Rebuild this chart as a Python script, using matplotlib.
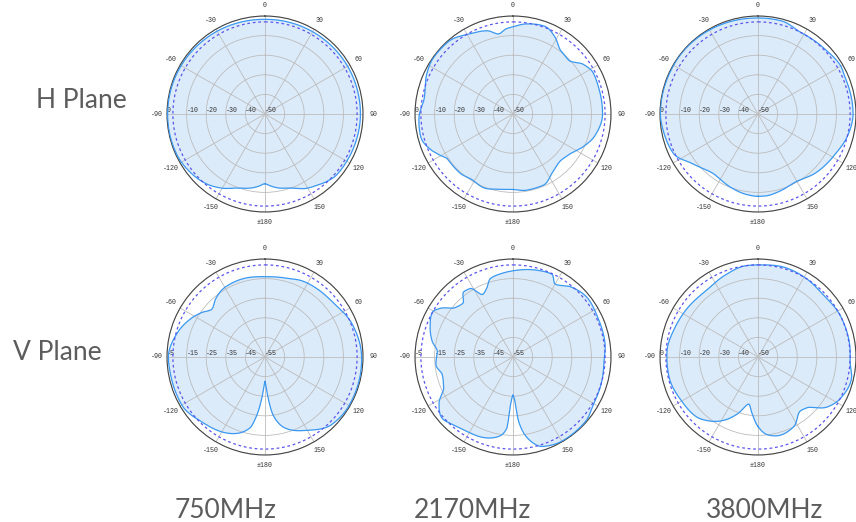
import numpy as np
import matplotlib
matplotlib.use("Agg")
import matplotlib.pyplot as plt

# ---------------- data (angle in degrees, clockwise from top; gain in dB) ----------------
freqs = ["750MHz", "2170MHz", "3800MHz"]
planes = ["H Plane", "V Plane"]
theta_labels = ["0", "30", "60", "90", "120", "150", "\u00b1180", "-150", "-120", "-90", "-60", "-30"]

h750_ang = [-180, -175, -170, -160, -150, -140, -131, -115, -100, -90, -75, -60, -45, -30, -15,
            0, 15, 30, 45, 60, 75, 90, 105, 120, 130, 137, 144, 151, 160, 170, 175, 180]
h750_db = [-14.4, -13.0, -11.7, -9.8, -6.3, -3.5, -2.0, -0.5, -0.3, -0.3, -0.4, -0.6, -0.9, -1.2, -1.5,
           -1.7, -1.6, -1.5, -1.4, -1.3, -1.3, -1.3, -1.5, -1.8, -2.0, -3.2, -5.0, -6.6, -9.8, -11.7, -13.0, -14.4]

h2170_ang = [-180, -170, -158, -148, -138, -125, -119, -114, -104, -92, -80, -64, -55, -42, -28, -17, -10, -5,
             0, 8, 20, 28, 37, 46, 55, 63, 75, 90, 105, 115, 125, 135, 146, 157, 170, 180]
h2170_db = [-11.5, -11.0, -9.5, -10.5, -9.5, -9.5, -7.0, -4.5, -1.5, -2.0, -4.0, -1.3, -0.3, -0.5, -3.6, -5.6, -8.5, -6.5,
            -5.5, -3.6, -2.4, -5.0, -9.5, -10.5, -6.0, -4.0, -4.3, -4.3, -6.8, -10.5, -14.5, -16.0, -14.0, -10.5, -10.5, -11.5]

h3800_ang = [-180, -172, -160, -144, -128, -115, -101, -90, -65, -53, -30, -15,
             0, 14, 28, 45, 60, 67, 90, 104, 117, 136, 151, 165, 175, 180]
h3800_db = [-8.0, -8.5, -10.0, -12.0, -8.4, -2.4, -1.0, -0.2, -0.3, -0.2, -0.5, -0.8,
            -1.0, -1.0, -3.0, -2.5, -1.2, -1.8, -1.5, -3.0, -5.5, -8.0, -10.4, -9.0, -8.0, -8.0]

v750_ang = [-180, -178, -176, -172, -168, -153, -136, -120, -102, -90, -75, -61, -55, -48, -40, -30, -16,
            0, 13, 27, 50, 69, 90, 108, 121, 135, 150, 165, 172, 176, 178, 180]
v750_db = [-42.5, -40.0, -35.0, -25.0, -18.0, -11.5, -8.8, -6.0, -6.0, -5.7, -8.5, -13.0, -15.5, -18.5, -16.0, -14.0, -13.5,
           -14.0, -13.5, -11.7, -10.6, -7.5, -5.7, -5.5, -5.5, -6.5, -11.8, -17.8, -25.0, -35.0, -40.0, -42.5]

v2170_ang = [-180, -177, -175, -169, -158, -148, -139, -131, -122, -114, -104, -96, -86, -79, -70, -61, -56, -50,
             -43, -37, -32, -26, -21, -16, -8, 0, 16, 25, 30, 40, 52, 66, 81, 93, 106, 119, 132, 148, 162, 169,
             175, 177.5, 180]
v2170_db = [-35.5, -30.5, -18.5, -13.5, -11.0, -10.3, -9.0, -7.2, -10.5, -16.3, -17.8, -15.5, -16.3, -13.0, -10.0, -8.0, -10.5, -16.0,
            -17.5, -13.3, -13.8, -19.5, -17.5, -13.3, -12.0, -11.0, -9.0, -8.3, -12.0, -8.5, -6.5, -7.3, -7.5, -8.5, -8.0, -7.5, -5.5, -5.3, -7.0, -12.0,
            -22.0, -32.5, -35.5]

v3800_ang = [-180, -174, -169, -160, -152, -144, -133, -120, -103, -86, -71, -58, -39, -22, -7,
             0, 16, 32, 46, 63, 82, 92, 104, 117, 126, 136, 142, 153, 164, 173, 180]
v3800_db = [-14.5, -21.0, -25.5, -19.0, -13.5, -9.5, -6.0, -5.0, -3.5, -3.5, -5.0, -6.0, -7.0, -5.0, -3.0,
            -3.0, -2.3, -3.0, -4.0, -3.0, -2.8, -3.0, -1.0, -3.0, -6.5, -14.0, -15.0, -10.0, -8.5, -10.0, -14.5]

# radial scales (tick values from centre to rim)
h_rticks = [-50, -40, -30, -20, -10, 0]
v_rticks_a = [-55, -45, -35, -25, -15, -5]
v_rticks_b = [-50, -40, -30, -20, -10, 0]

patterns = [
    [(h750_ang, h750_db, h_rticks), (h2170_ang, h2170_db, h_rticks), (h3800_ang, h3800_db, h_rticks)],
    [(v750_ang, v750_db, v_rticks_a), (v2170_ang, v2170_db, v_rticks_a), (v3800_ang, v3800_db, v_rticks_b)],
]


def smooth_curve(ang, val, n=1441):
    """Periodic shape-preserving cubic (PCHIP) rendering of the read points."""
    a = np.asarray(ang[:-1], dtype=float)
    v = np.asarray(val[:-1], dtype=float)
    ax_ = np.concatenate([a - 360, a, a + 360])
    vx = np.concatenate([v, v, v])
    h = np.diff(ax_)
    dl = np.diff(vx) / h
    d = np.zeros_like(vx)
    for k in range(1, len(vx) - 1):
        if dl[k - 1] * dl[k] <= 0:
            d[k] = 0.0
        else:
            w1 = 2 * h[k] + h[k - 1]
            w2 = h[k] + 2 * h[k - 1]
            d[k] = (w1 + w2) / (w1 / dl[k - 1] + w2 / dl[k])
    t = np.linspace(-180, 180, n)
    idx = np.searchsorted(ax_, t, side="right") - 1
    x0, x1 = ax_[idx], ax_[idx + 1]
    hh = x1 - x0
    s = (t - x0) / hh
    h00 = 2 * s**3 - 3 * s**2 + 1
    h10 = s**3 - 2 * s**2 + s
    h01 = -2 * s**3 + 3 * s**2
    h11 = s**3 - s**2
    r = h00 * vx[idx] + h10 * hh * d[idx] + h01 * vx[idx + 1] + h11 * hh * d[idx + 1]
    return np.deg2rad(t), r


# ---------------- figure ----------------
W, H = 856, 522
fig = plt.figure(figsize=(W / 100, H / 100), dpi=100)

centers_x = [265, 513, 758]
centers_y = [114, 357]
rad = 98

line_col = "#3a98f0"
fill_col = "#dcebfa"
dash_col = "#5a55ee"
grid_col = "#bcbcbc"
tick_family = "Liberation Mono"
tick_size = 4.8
tick_color = "#333333"

for i, row in enumerate(patterns):
    for j, (ang, db, rt) in enumerate(row):
        cx, cy = centers_x[j], centers_y[i]
        rect = [(cx - rad) / W, 1 - (cy + rad) / H, 2 * rad / W, 2 * rad / H]
        ax = fig.add_axes(rect, projection="polar")
        ax.set_theta_zero_location("N")
        ax.set_theta_direction(-1)
        rmin, rmax = rt[0], rt[-1]
        ax.set_ylim(rmin, rmax)

        th, r = smooth_curve(ang, db)
        ax.fill(th, r, color=fill_col, zorder=1, lw=0)
        ax.plot(th, r, color=line_col, lw=0.9, zorder=3)

        full = np.linspace(0, 2 * np.pi, 361)
        ax.plot(full, np.full_like(full, rmax - 3), color=dash_col, lw=0.9,
                ls=(0, (2.2, 2.2)), zorder=3)

        ax.set_thetagrids(np.arange(0, 360, 30), theta_labels)
        ax.set_rticks(rt)
        ax.set_yticklabels([str(v) for v in rt])
        ax.set_rlabel_position(270)
        ax.set_ylim(rmin, rmax)
        ax.grid(True, color=grid_col, lw=0.6)
        ax.tick_params(axis="x", pad=-3)
        for lab in ax.get_xticklabels() + ax.get_yticklabels():
            lab.set_fontfamily(tick_family)
            lab.set_fontsize(tick_size)
            lab.set_color(tick_color)
        ax.spines["polar"].set_color("#444444")
        ax.spines["polar"].set_linewidth(0.8)
        ax.set_facecolor("white")

label_kw = dict(family="Lato", fontsize=19, color="#5c5c5c", ha="center", va="center")
fig.text(81 / W, 1 - 100 / H, planes[0], **label_kw)
fig.text(57 / W, 1 - 352 / H, planes[1], **label_kw)
for x, f in zip([226, 472, 765], freqs):
    fig.text(x / W, 1 - 510 / H, f, **label_kw)

fig.savefig("out.png", dpi=100, facecolor="white")
